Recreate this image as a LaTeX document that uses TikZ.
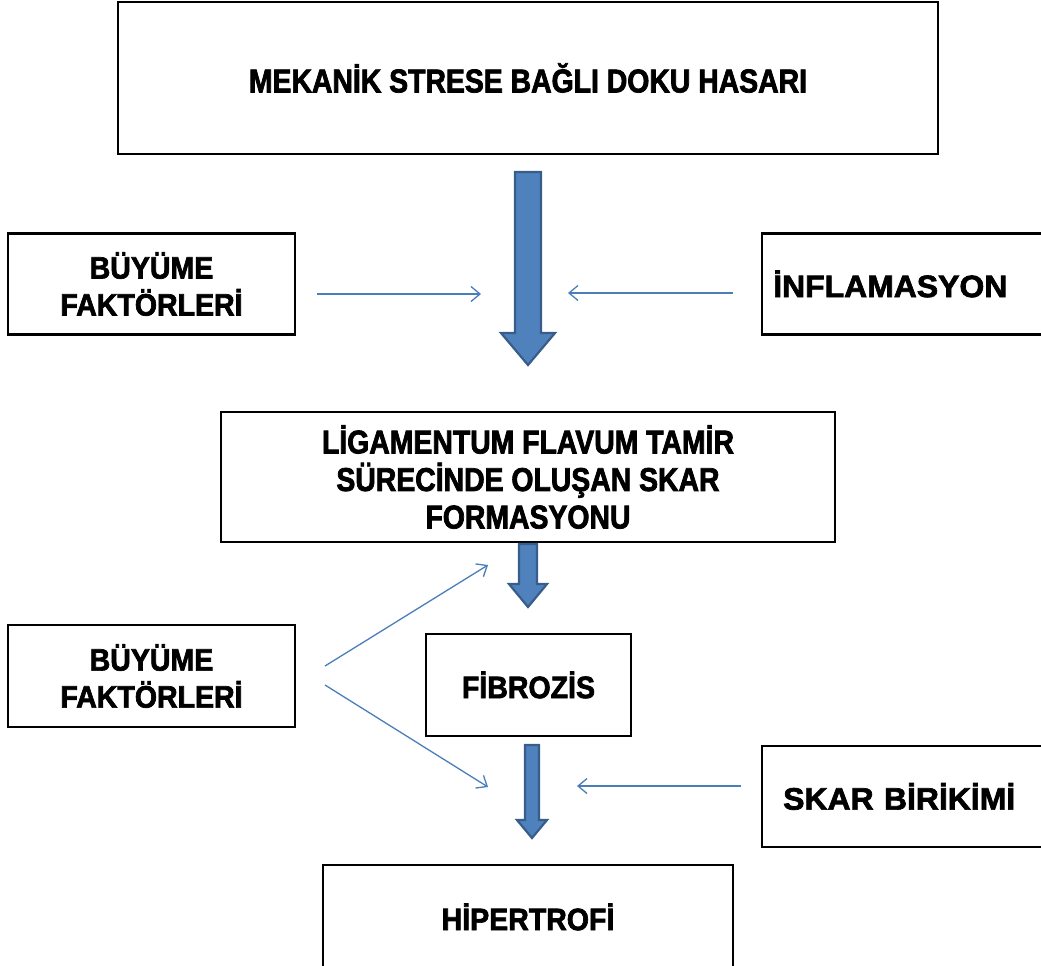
\documentclass[tikz,border=0pt]{standalone}
\usepackage{fontspec}
\setmainfont{Liberation Sans}
\newfontfamily\boxfont[FakeStretch=0.92,FakeBold=2.2]{Liberation Sans}
\newfontfamily\widefont[FakeStretch=1.03,FakeBold=2.2]{Liberation Sans}
\newfontfamily\narrowfont[FakeStretch=0.86,FakeBold=2.2]{Liberation Sans}
\usetikzlibrary{arrows.meta}
\definecolor{arrowblue}{RGB}{79,129,189}
\definecolor{arrowedge}{RGB}{56,93,138}
\definecolor{linkblue}{RGB}{74,126,187}
\tikzset{
  box/.style={draw, line width=2.4pt, align=center, inner sep=0pt,
    font=\boxfont\bfseries\fontsize{31}{37}\selectfont},
  narrowbox/.style={box, font=\narrowfont\bfseries\fontsize{33}{37.5}\selectfont},
  widebox/.style={box, anchor=west, minimum height=101, text width=280, align=left,
    font=\widefont\bfseries\fontsize{31}{37}\selectfont},
  link/.style={draw=linkblue, line width=1.3pt, -{Straight Barb[length=9pt,width=15pt]}},
  bigarrow/.style={fill=arrowblue, draw=arrowedge, line width=2.2pt, line join=miter}
}
% x, top, head start, tip, half shaft, half head
\newcommand{\blockarrow}[6]{%
  \filldraw[bigarrow] (#1-#5,#2) -- (#1+#5,#2) -- (#1+#5,#3) -- (#1+#6,#3)
    -- (#1,#4) -- (#1-#6,#3) -- (#1-#5,#3) -- cycle;}
\begin{document}
\begin{tikzpicture}[x=1pt,y=-1pt]
    \useasboundingbox (0,0) rectangle (1041,966);

    \node [narrowbox, minimum width=820, minimum height=152] (mekanik) at (528,78) {MEKANİK STRESE BAĞLI DOKU HASARI};
    \node [box, minimum width=287, minimum height=101] (buyumeA) at (151.5,284) {BÜYÜME\\FAKTÖRLERİ};
    \node [widebox, inner xsep=11] (inflam) at (761,284) {İNFLAMASYON};
    \node [narrowbox, minimum width=614, minimum height=130] (ligament) at (528,477) {LİGAMENTUM FLAVUM TAMİR\\SÜRECİNDE OLUŞAN SKAR\\FORMASYONU};
    \node [box, minimum width=287, minimum height=102] (buyumeB) at (151.5,676) {BÜYÜME\\FAKTÖRLERİ};
    \node [box, minimum width=205, minimum height=102] (fibrozis) at (528.5,685) {FİBROZİS};
    \node [widebox, inner xsep=21] (skar) at (761,796.5) {SKAR BİRİKİMİ};
    \node [box, minimum width=410, minimum height=104] (hipertrofi) at (528,917) {HİPERTROFİ};

    \blockarrow{528}{172}{333}{365}{13}{27}
    \blockarrow{528}{544}{584}{607}{9}{19}
    \blockarrow{532}{745}{820}{838}{7}{15}

    \coordinate (inA) at (481,294);
    \coordinate (outA) at (317,294);
    \coordinate (inB) at (568,293);
    \coordinate (outB) at (733,293);
    \coordinate (inC) at (488,565);
    \coordinate (outC) at (325,666);
    \coordinate (inD) at (488,787);
    \coordinate (outD) at (325,685);
    \coordinate (inE) at (577,786);
    \coordinate (outE) at (741,786);

    \draw [link] (outA) -- (inA);
    \draw [link] (outB) -- (inB);
    \draw [link] (outC) -- (inC);
    \draw [link] (outD) -- (inD);
    \draw [link] (outE) -- (inE);
\end{tikzpicture}
\end{document}
